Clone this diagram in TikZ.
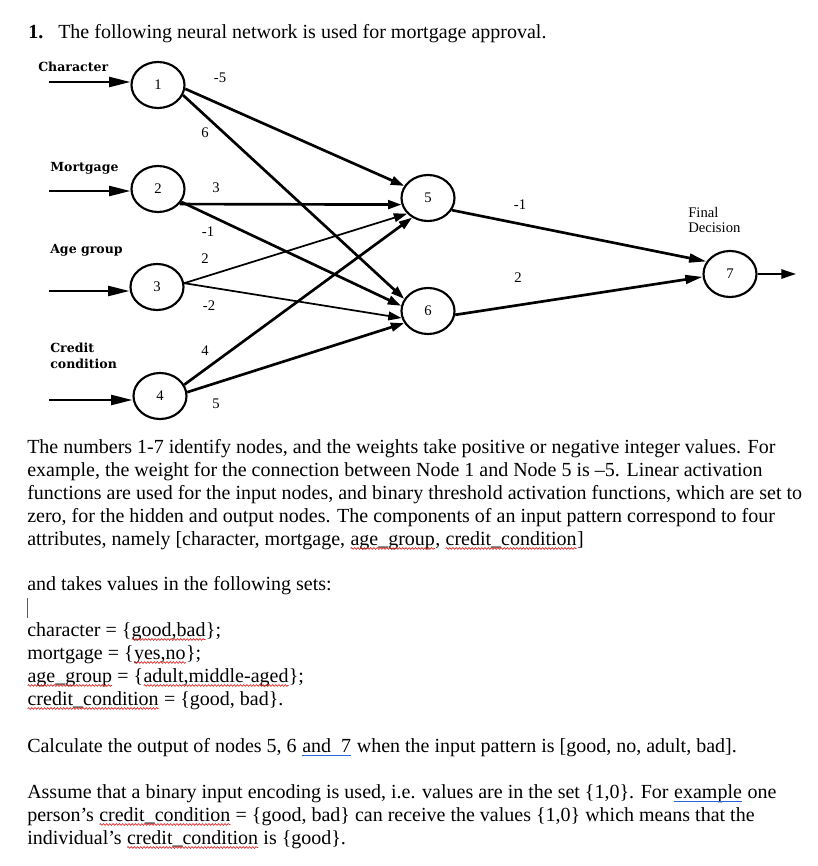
\documentclass[tikz,border=0pt]{standalone}
\usepackage{fontspec}
\setmainfont{Liberation Serif}
\newfontfamily\lblfont{DejaVu Serif}
\usetikzlibrary{arrows.meta,shapes.geometric,decorations.pathmorphing}
\definecolor{spellred}{RGB}{225,40,40}
\definecolor{grammarblue}{RGB}{40,100,220}
\definecolor{caretgray}{RGB}{90,90,90}
\newcommand{\sqg}[1]{\tikz[baseline=(sqw.base)]{\node[inner sep=0pt,outer sep=0pt,anchor=base](sqw){#1};\draw[spellred,line width=0.5pt,decorate,decoration={snake,amplitude=0.65pt,segment length=2.4pt}]([yshift=-2.6pt]sqw.base west)--([yshift=-2.6pt]sqw.base east);}}
\newcommand{\gbl}[1]{\tikz[baseline=(buw.base)]{\node[inner sep=0pt,outer sep=0pt,anchor=base](buw){#1};\draw[grammarblue,line width=1pt]([yshift=-2.4pt]buw.base west)--([yshift=-2.4pt]buw.base east);}}
\begin{document}
\begin{tikzpicture}[x=0.75pt,y=-0.75pt,
  neuron/.style={ellipse,draw,line width=1.6pt,minimum width=39.75pt,minimum height=34.5pt,inner sep=0pt,font=\fontsize{11}{12}\selectfont},
  inlbl/.style={font=\lblfont\bfseries\fontsize{9.4}{11}\selectfont,inner sep=0pt,anchor=base west},
  wlbl/.style={font=\fontsize{11}{12}\selectfont,inner sep=0pt},
  conn/.style={line width=2pt,-{Triangle[length=10pt,width=6.5pt]}},
  thinconn/.style={conn,line width=1.3pt},
  longconn/.style={line width=2pt,-{Triangle[length=13pt,width=6.5pt]}},
  inarrow/.style={line width=1.75pt,-{Triangle[length=16pt,width=7.5pt]}},
  outarrow/.style={line width=1.2pt,-{Triangle[length=11pt,width=7pt]}},
  txt/.style={font=\fontsize{15}{17.25}\selectfont,inner sep=0pt,anchor=base west},
]
\path[use as bounding box] (0,0) rectangle (817,866);

% title
\node[txt] (tnum) at (28,39) {\textbf{1.}};
\node[txt] (ttitle) at (58,39) {The following neural network is used for mortgage approval.};

% neurons
\node[neuron] (n1) at (158,85) {1};
\node[neuron] (n2) at (158,189) {2};
\node[neuron] (n3) at (157,287) {3};
\node[neuron] (n4) at (160,396) {4};
\node[neuron] (n5) at (428,198) {5};
\node[neuron] (n6) at (428,311) {6};
\node[neuron] (n7) at (730,274) {7};

% input labels
\node[inlbl] (lchar) at (38,72) {Character};
\node[inlbl] (lmort) at (50,172) {Mortgage};
\node[inlbl] (lage) at (50,253) {Age group};
\node[inlbl] (lcred1) at (50,352) {Credit};
\node[inlbl] (lcred2) at (50,368) {condition};

% input arrows
\coordinate (i1) at (49,82);
\coordinate (i2) at (49,191);
\coordinate (i3) at (49,291);
\coordinate (i4) at (49,400);
\draw[inarrow] (i1) -- (i1 -| n1.west);
\draw[inarrow] (i2) -- (i2 -| n2.west);
\draw[inarrow] (i3) -- (i3 -| n3.west);
\draw[inarrow] (i4) -- (i4 -| n4.west);

% hidden connections
\draw[conn] (n1.-8) -- (n5.153);
\draw[conn] (n1.-22) -- (n6.153);
\draw[conn] (n2.-35) -- (n5.194);
\draw[conn] (n2.-29) -- (n6.169);
\draw[thinconn] (n3.8) -- (n5.217);
\draw[thinconn] (n3.8) -- (n6.195);
\draw[conn] (n4.25) -- (n5.231);
\draw[conn] (n4.8) -- (n6.207);

% output connections
\draw[longconn] (n5.-27) -- (n7.152);
\draw[longconn] (n6.-8) -- (n7.186);
\coordinate (o7) at (796,274);
\draw[outarrow] (n7.east) -- (o7);

% weights
\node[wlbl] (w15) at (220,78) {-5};
\node[wlbl] (w16) at (205,133) {6};
\node[wlbl] (w25) at (216,188) {3};
\node[wlbl] (w26) at (208,232) {-1};
\node[wlbl] (w35) at (205,259) {2};
\node[wlbl] (w36) at (209,306) {-2};
\node[wlbl] (w45) at (205,351) {4};
\node[wlbl] (w46) at (216,404) {5};
\node[wlbl] (w57) at (520,205) {-1};
\node[wlbl] (w67) at (518,278) {2};
\node[inner sep=0pt,anchor=west,align=left,font=\fontsize{11}{11.25}\selectfont] (lfinal) at (688,219.5) {Final\\Decision};

% paragraph
\node[txt] (p1) at (27,453) {The numbers 1-7 identify nodes, and the weights take positive or negative integer values. For};
\node[txt] (p2) at (27,476) {example, the weight for the connection between Node 1 and Node 5 is –5. Linear activation};
\node[txt] (p3) at (27,499) {functions are used for the input nodes, and binary threshold activation functions, which are set to};
\node[txt] (p4) at (27,522) {zero, for the hidden and output nodes. The components of an input pattern correspond to four};
\node[txt] (p5) at (27,545) {attributes, namely [character, mortgage, \sqg{age\_group}, \sqg{credit\_condition}]};
\node[txt] (p6) at (27,590) {and takes values in the following sets:};
\coordinate (c1) at (27,598);
\coordinate (c2) at (27,618);
\draw[caretgray,line width=0.6pt] (c1) -- (c2);
\node[txt] (s1) at (27,636) {character = \{\sqg{good,bad}\};};
\node[txt] (s2) at (27,659) {mortgage = \{\sqg{yes,no}\};};
\node[txt] (s3) at (27,682) {\sqg{age\_group} = \{\sqg{adult,middle-aged}\};};
\node[txt] (s4) at (27,705) {\sqg{credit\_condition} = \{good, bad\}.};
\node[txt] (q1) at (27,752) {Calculate the output of nodes 5, 6 \gbl{and\ \ 7} when the input pattern is [good, no, adult, bad].};
\node[txt] (q2) at (27,798) {Assume that a binary input encoding is used, i.e. values are in the set \{1,0\}. For \gbl{example} one};
\node[txt] (q3) at (27,821) {person’s \sqg{credit\_condition} = \{good, bad\} can receive the values \{1,0\} which means that the};
\node[txt] (q4) at (27,844) {individual’s \sqg{credit\_condition} is \{good\}.};
\end{tikzpicture}
\end{document}
